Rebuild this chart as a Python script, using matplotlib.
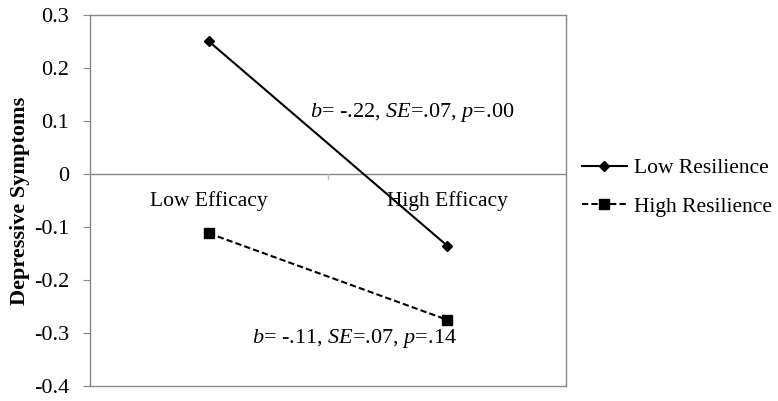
import numpy as np
import matplotlib.pyplot as plt

plt.rcParams['font.family'] = ['Liberation Serif', 'DejaVu Serif']
plt.rcParams['mathtext.fontset'] = 'custom'
plt.rcParams['mathtext.rm'] = 'Liberation Serif'
plt.rcParams['mathtext.it'] = 'Liberation Serif:italic'

categories = ['Low Efficacy', 'High Efficacy']
low_resilience = [0.25, -0.135]
high_resilience = [-0.112, -0.275]
y_ticks = [-0.4, -0.3, -0.2, -0.1, 0, 0.1, 0.2, 0.3]
y_tick_labels = ['-0.4', '-0.3', '-0.2', '-0.1', '0', '0.1', '0.2', '0.3']

fig = plt.figure(figsize=(7.78, 4.01), dpi=100)
ax = fig.add_axes([90 / 778, 15 / 401, 476 / 778, 371 / 401])

x = np.arange(len(categories))
ax.plot(x, low_resilience, color='black', lw=1.5, marker='D', ms=5.5,
        label='Low Resilience')
ax.plot(x, high_resilience, color='black', lw=1.5, ls=(0, (3, 1.5)), marker='s', ms=7,
        label='High Resilience')

ax.set_xlim(-0.5, 1.5)
ax.set_ylim(-0.4, 0.3)
ax.set_yticks(y_ticks)
ax.set_yticklabels(y_tick_labels, fontsize=16)
ax.set_xticks([])

# x axis line drawn at zero, with category labels under it
ax.axhline(0, color='#888888', lw=1, zorder=0)
ax.plot([0.5, 0.5], [0, -0.009], color='#bbbbbb', lw=1, zorder=0)
for xi, name in zip(x, categories):
    ax.text(xi, -0.051, name, ha='center', va='center', fontsize=15.5)

for side in ax.spines.values():
    side.set_color('#888888')
    side.set_linewidth(1)
ax.tick_params(axis='y', length=5, color='#888888', pad=10)

ax.set_ylabel('Depressive Symptoms', fontsize=16, fontweight='bold', labelpad=3)

ax.text(0.853, 0.116, r'$b$= -.22, $SE$=.07, $p$=.00', ha='center', va='center', fontsize=16)
ax.text(0.61, -0.31, r'$b$= -.11, $SE$=.07, $p$=.14', ha='center', va='center', fontsize=16)

ax.legend(loc='center left', bbox_to_anchor=(1.033, 0.535), frameon=False, fontsize=15.5,
          handlelength=2.1, handletextpad=0.35, labelspacing=0.85,
          borderpad=0, borderaxespad=0)

fig.savefig('out.png', dpi=100)
